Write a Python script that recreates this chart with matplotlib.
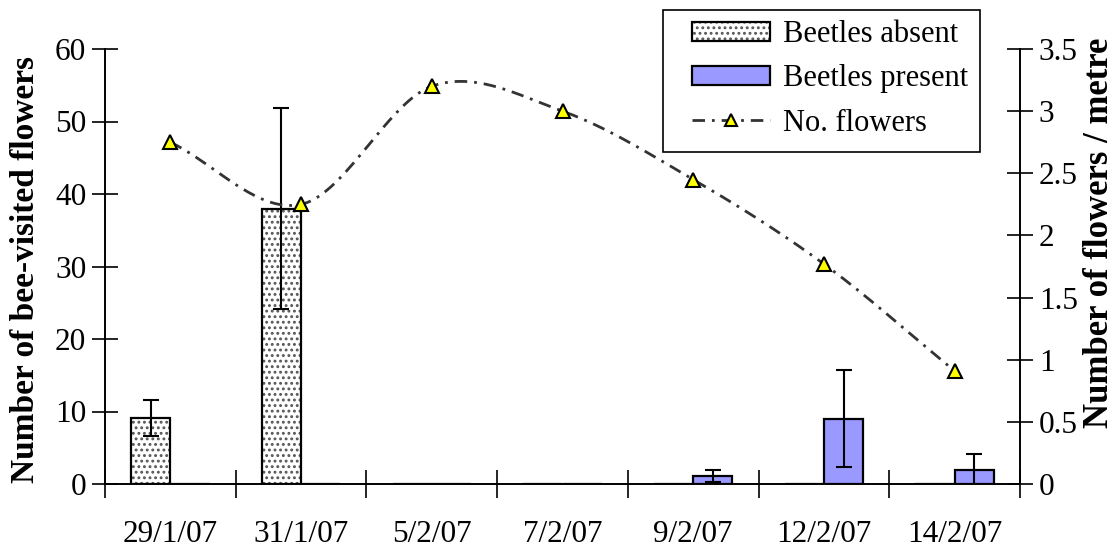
import numpy as np
import matplotlib
matplotlib.use("Agg")
import matplotlib.pyplot as plt
from matplotlib.patches import Patch, Rectangle
from matplotlib.lines import Line2D

# ---- data ----
dates = ["29/1/07", "31/1/07", "5/2/07", "7/2/07", "9/2/07", "12/2/07", "14/2/07"]
absent = [9.1, 38.0, 0, 0, 0, 0, 0]
absent_err = [2.5, 13.8, 0, 0, 0, 0, 0]
present = [0, 0, 0, 0, 1.1, 9.0, 1.9]
present_err = [0, 0, 0, 0, 0.8, 6.7, 2.2]
flowers = [2.75, 2.25, 3.2, 3.0, 2.45, 1.77, 0.91]

plt.rcParams['font.family'] = ['Liberation Serif', 'DejaVu Serif']
plt.rcParams['hatch.linewidth'] = 1.3

W, H = 1117, 549
fig = plt.figure(figsize=(W/100, H/100), dpi=100)
ax = fig.add_axes([105/W, 1-484/H, (1020-105)/W, (484-49)/H])
ax2 = ax.twinx()

n = len(dates)
x = np.arange(n) + 0.5
bw = 0.3

# beetles absent (dotted)
ax.bar(x - bw/2, absent, bw, color='white', edgecolor='#555555', hatch='...', linewidth=0, zorder=2)
ax.bar(x - bw/2, absent, bw, fill=False, edgecolor='black', linewidth=1.6, zorder=3)
# beetles present
ax.bar(x + bw/2, present, bw, color='#9999FF', edgecolor='black', linewidth=1.6, zorder=3)

ea = np.array(absent_err); ep = np.array(present_err)
ma = ea > 0; mp = ep > 0
ax.errorbar((x - bw/2)[ma], np.array(absent)[ma], yerr=ea[ma], fmt='none', ecolor='black',
            elinewidth=1.5, capsize=6, capthick=1.5, zorder=4)
ax.errorbar((x + bw/2)[mp], np.array(present)[mp], yerr=ep[mp], fmt='none', ecolor='black',
            elinewidth=1.5, capsize=6, capthick=1.5, zorder=4)

# smooth (Catmull-Rom) curve through the flower points
def catmull(xs, ys, steps=40):
    xs = np.asarray(xs, float); ys = np.asarray(ys, float)
    P = np.column_stack([xs, ys])
    P = np.vstack([2*P[0]-P[1], P, 2*P[-1]-P[-2]])
    out = []
    for i in range(1, len(P)-2):
        p0, p1, p2, p3 = P[i-1], P[i], P[i+1], P[i+2]
        m1 = (p2 - p0)/2; m2 = (p3 - p1)/2
        t = np.linspace(0, 1, steps, endpoint=(i == len(P)-3))[:, None]
        h00 = 2*t**3 - 3*t**2 + 1; h10 = t**3 - 2*t**2 + t
        h01 = -2*t**3 + 3*t**2; h11 = t**3 - t**2
        out.append(h00*p1 + h10*m1 + h01*p2 + h11*m2)
    return np.vstack(out)

curve = catmull(x, flowers)
ls = (0, (4.5, 2.5, 1, 2.5))
ax2.plot(curve[:, 0], curve[:, 1], color='#333333', lw=2, linestyle=ls, zorder=5)
ax2.plot(x, flowers, linestyle='none', marker='^', markersize=10, markerfacecolor='#FFFF00',
         markeredgecolor='black', markeredgewidth=1.5, zorder=6)

# axes formatting
ax.set_xlim(0, n)
ax.set_ylim(0, 60)
ax2.set_ylim(0, 3.5)
ax.set_yticks(np.arange(0, 61, 10))
ax2.set_yticks([0, 0.5, 1, 1.5, 2, 2.5, 3, 3.5])
ax2.set_yticklabels(['0', '0.5', '1', '1.5', '2', '2.5', '3', '3.5'])
ax.set_xticks(np.arange(0, n+1))
ax.set_xticklabels([])
ax.set_xticks(x, minor=True)
ax.set_xticklabels(dates, minor=True)
ax.tick_params(axis='x', which='minor', length=0, pad=26, labelsize=22.5)
ax.tick_params(axis='x', which='major', direction='inout', length=20, width=1.2)
ax.tick_params(axis='y', direction='inout', length=19, width=1.2, labelsize=22.5, pad=4)
ax2.tick_params(axis='y', direction='inout', length=19, width=1.2, labelsize=22.5, pad=4)

for a in (ax, ax2):
    a.spines['top'].set_visible(False)
    for s in ('left', 'right', 'bottom'):
        a.spines[s].set_linewidth(1.2)
ax.patch.set_visible(False)

ax.set_ylabel('Number of bee-visited flowers', fontsize=24, fontweight='bold')
ax.yaxis.set_label_coords((41-105)/915, 0.494)
ax2.set_ylabel('Number of flowers / metre', fontsize=25, fontweight='bold')
ax2.yaxis.set_label_coords((1083-105)/915, 0.577)

# legend
fig.add_artist(Rectangle((663/W, 1-152/H), (980-663)/W, (152-10)/H, transform=fig.transFigure,
                         facecolor='white', edgecolor='black', linewidth=1.2, zorder=9))
h_abs = (Patch(facecolor='white', edgecolor='#555555', hatch='...', linewidth=0),
         Patch(fill=False, edgecolor='black', linewidth=1.6))
h_pre = Patch(facecolor='#9999FF', edgecolor='black', linewidth=1.6)
h_line = Line2D([], [], color='#333333', lw=2, linestyle=ls, marker='^', markersize=9,
                markerfacecolor='#FFFF00', markeredgecolor='black', markeredgewidth=1.5)
leg = fig.legend([h_abs, h_pre, h_line], ['Beetles absent', 'Beetles present', 'No. flowers'],
                 loc='upper left', bbox_to_anchor=(692/W, 1-20/H), fontsize=22,
                 frameon=False, handlelength=2.55, handleheight=0.6, borderpad=0,
                 labelspacing=0.5, handletextpad=0.42, borderaxespad=0)
leg.set_zorder(10)

fig.savefig('out.png', dpi=100)
